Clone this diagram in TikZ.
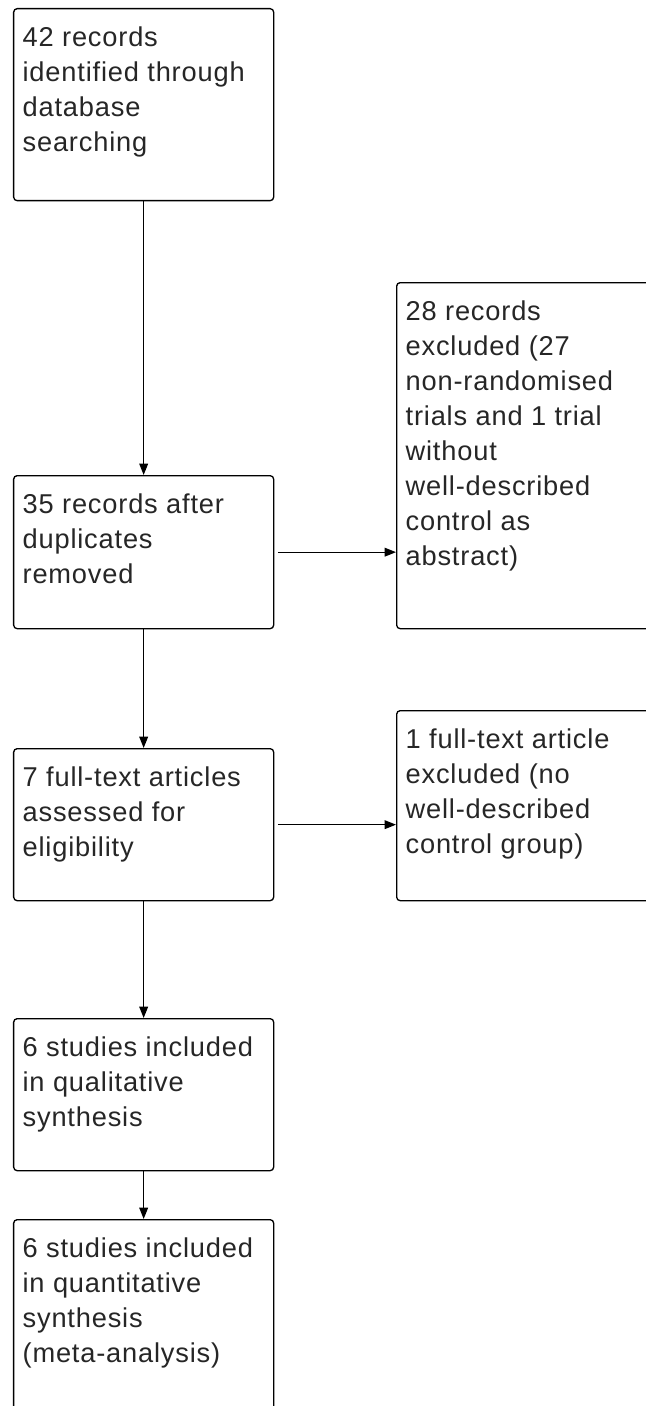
\documentclass[tikz,border=0pt]{standalone}
\usepackage{fontspec}
\setmainfont[LetterSpace=3]{Liberation Sans}
\usetikzlibrary{arrows.meta}
\newcommand{\stagetext}[2]{\parbox[t][#1][t]{4.84cm}{\raggedright #2}}
\tikzset{
  stage/.style={draw, rounded corners=2pt, anchor=north west, line width=0.75pt,
    inner xsep=0.18cm, inner ysep=0.37cm, text=black!85,
    font=\fontsize{15.5}{19.9}\selectfont},
  flow/.style={draw, line width=0.75pt, -{Triangle[length=6.5pt,width=5pt]}}
}
\begin{document}
\begin{tikzpicture}
\useasboundingbox (0,0) rectangle (12.9,-28.12);
\node[stage] (ident) at (0.26,-0.16) {\stagetext{3.10cm}{42 records\\ identified through\\ database\\ searching}};
\node[stage] (dup) at (0.26,-9.5) {\stagetext{2.32cm}{35 records after\\ duplicates\\ removed}};
\node[stage] (excl) at (7.92,-5.64) {\stagetext{6.18cm}{28 records\\ excluded (27\\ non-randomised\\ trials and 1 trial\\ without\\ well-described\\ control as\\ abstract)}};
\node[stage] (elig) at (0.26,-14.96) {\stagetext{2.30cm}{7 full-text articles\\ assessed for\\ eligibility}};
\node[stage] (ftex) at (7.92,-14.2) {\stagetext{3.06cm}{1 full-text article\\ excluded (no\\ well-described\\ control group)}};
\node[stage] (qual) at (0.26,-20.36) {\stagetext{2.30cm}{6 studies included\\ in qualitative\\ synthesis}};
\node[stage] (quant) at (0.26,-24.38) {\stagetext{3.26cm}{6 studies included\\ in quantitative\\ synthesis\\ (meta-analysis)}};

\path[flow] (ident) -- (dup);
\path[flow, shorten <=2pt] (dup.east) -- (dup.east -| excl.west);
\path[flow] (dup) -- (elig);
\path[flow, shorten <=2pt] (elig.east) -- (elig.east -| ftex.west);
\path[flow] (elig) -- (qual);
\path[flow] (qual) -- (quant);
\end{tikzpicture}
\end{document}
